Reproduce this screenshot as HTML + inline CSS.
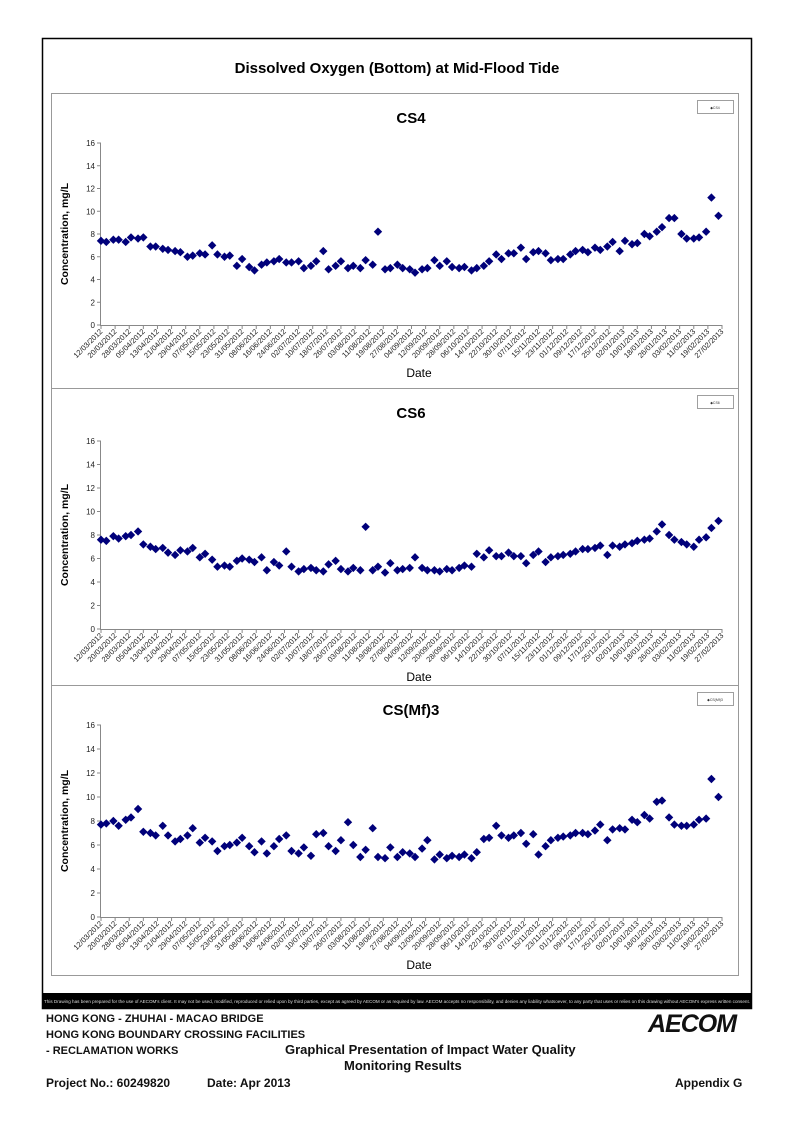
<!DOCTYPE html>
<html><head><meta charset="utf-8"><style>
body{margin:0;background:#fff;font-family:"Liberation Sans",Arial,sans-serif}
#page{position:relative;width:794px;height:1122px;overflow:hidden}
.t{position:absolute;font-weight:bold;color:#111;white-space:nowrap}
</style></head><body>
<div id="page">
<svg id="svg" width="794" height="1122" style="position:absolute;left:0;top:0">
<rect x="42.5" y="38.5" width="709" height="970" fill="none" stroke="#000" stroke-width="1.5"/>
<text x="397" y="73" text-anchor="middle" font-size="15" font-weight="bold" font-family="Liberation Sans">Dissolved Oxygen (Bottom) at Mid-Flood Tide</text>
<rect x="42" y="993" width="710" height="15" fill="#000"/>
<text x="44" y="1003" font-size="4.6" fill="#ddd" font-family="Liberation Sans" textLength="706" lengthAdjust="spacingAndGlyphs">This Drawing has been prepared for the use of AECOM's client. It may not be used, modified, reproduced or relied upon by third parties, except as agreed by AECOM or as required by law. AECOM accepts no responsibility, and denies any liability whatsoever, to any party that uses or relies on this drawing without AECOM's express written consent.</text>
</svg>
<div class="t" style="left:46px;top:1013px;font-size:11px">HONG KONG - ZHUHAI - MACAO BRIDGE</div>
<div class="t" style="left:46px;top:1029px;font-size:11px">HONG KONG BOUNDARY CROSSING FACILITIES</div>
<div class="t" style="left:46px;top:1045px;font-size:11px">- RECLAMATION WORKS</div>
<div class="t" style="left:285px;top:1042px;font-size:13px">Graphical Presentation of Impact Water Quality</div>
<div class="t" style="left:344px;top:1058px;font-size:13px">Monitoring Results</div>
<div class="t" style="left:46px;top:1076px;font-size:12px">Project No.: 60249820</div>
<div class="t" style="left:207px;top:1076px;font-size:12px">Date: Apr 2013</div>
<div class="t" style="left:675px;top:1076px;font-size:12px">Appendix G</div>
<div class="t" style="left:648px;top:1010px;font-size:25px;font-style:italic;letter-spacing:-1px">AECOM</div>
</div>
<script>
const days=[0,3,7,10,14,17,21,24,28,31,35,38,42,45,49,52,56,59,63,66,70,73,77,80,84,87,91,94,98,101,105,108,112,115,119,122,126,129,133,136,140,143,147,150,154,157,161,164,168,171,175,178,182,185,189,192,196,199,203,206,210,213,217,220,224,227,231,234,238,241,245,248,252,255,259,262,266,269,273,276,280,283,287,290,294,297,301,304,308,311,315,318,322,325,329,332,336,339,343,346,350];
const cs4=[7.4,7.3,7.5,7.5,7.3,7.7,7.6,7.7,6.9,6.9, 6.7,6.6,6.5,6.4,6.0,6.1,6.3,6.2, 7.0,6.2,6.0,6.1,5.2,5.8,5.1,4.8,5.3,5.5, 5.6,5.8,5.5,5.5,5.6,5.0,5.2,5.6, 6.5,4.9,5.2,5.6,5.0,5.2,5.0,5.7, 5.3,8.2, 4.9,5.0,5.3,5.0,4.9,4.6,4.9,5.0, 5.7,5.2,5.6,5.1,5.0,5.1,4.8,5.0, 5.2,5.6,6.2,5.8,6.3,6.3,6.8,5.8, 6.4,6.5,6.3,5.7,5.8,5.8,6.2,6.5, 6.6,6.4,6.8,6.6,6.9,7.3,6.5,7.4, 7.1,7.2,8.0,7.8,8.2,8.6,9.4,9.4, 8.0,7.6,7.6,7.7,8.2,11.2, 9.6];
const cs6=[7.6,7.5,7.9,7.7,7.9,8.0,8.3,7.2,7.0,6.8, 6.9,6.5,6.3,6.7,6.6,6.9,6.1,6.4, 5.9,5.3,5.4,5.3,5.8,6.0,5.9,5.7,6.1,5.0, 5.7,5.4,6.6,5.3,4.9,5.1,5.2,5.0, 4.9,5.5,5.8,5.1,4.9,5.2,5.0,8.7, 5.0,5.3, 4.8,5.6,5.0,5.1,5.2,6.1,5.2,5.0, 5.0,4.9,5.1,5.0,5.2,5.4,5.3,6.4, 6.1,6.7,6.2,6.2,6.5,6.2,6.2,5.6, 6.3,6.6,5.7,6.1,6.2,6.3,6.4,6.6, 6.8,6.8,6.9,7.1,6.3,7.1,7.0,7.2, 7.3,7.5,7.6,7.7,8.3,8.9,8.0,7.6, 7.4,7.2,7.0,7.6,7.8,8.6, 9.2];
const csmf3=[7.7,7.8,8.0,7.6,8.1,8.3,9.0,7.1,7.0,6.8, 7.6,6.8,6.3,6.5,6.8,7.4,6.2,6.6, 6.3,5.5,5.9,6.0,6.2,6.6,5.9,5.4,6.3,5.3, 5.9,6.5,6.8,5.5,5.3,5.8,5.1,6.9, 7.0,5.9,5.5,6.4,7.9,6.0,5.0,5.6, 7.4,5.0, 4.9,5.8,5.0,5.4,5.3,5.0,5.7,6.4, 4.8,5.2,4.9,5.1,5.0,5.2,4.9,5.4, 6.5,6.6,7.6,6.8,6.6,6.8,7.0,6.1, 6.9,5.2,5.9,6.4,6.6,6.7,6.8,7.0, 7.0,6.9,7.2,7.7,6.4,7.3,7.4,7.3, 8.1,7.9,8.5,8.2,9.6,9.7,8.3,7.7, 7.6,7.6,7.7,8.1,8.2,11.5, 10.0];
const yTicks=[0,2,4,6,8,10,12,14,16];
const xTickLabels=["12/03/2012","20/03/2012","28/03/2012","05/04/2012","13/04/2012","21/04/2012","29/04/2012","07/05/2012","15/05/2012","23/05/2012","31/05/2012","08/06/2012","16/06/2012","24/06/2012","02/07/2012","10/07/2012","18/07/2012","26/07/2012","03/08/2012","11/08/2012","19/08/2012","27/08/2012","04/09/2012","12/09/2012","20/09/2012","28/09/2012","06/10/2012","14/10/2012","22/10/2012","30/10/2012","07/11/2012","15/11/2012","23/11/2012","01/12/2012","09/12/2012","17/12/2012","25/12/2012","02/01/2013","10/01/2013","18/01/2013","26/01/2013","03/02/2013","11/02/2013","19/02/2013","27/02/2013"];
const NS="http://www.w3.org/2000/svg";
const svg=document.getElementById('svg');
function mk(tag,attrs,parent){const e=document.createElementNS(NS,tag);for(const k in attrs)e.setAttribute(k,attrs[k]);(parent||svg).appendChild(e);return e;}
const panels=[
 {name:'cs4',title:'CS4',legend:'CS4',vals:cs4,top:93,bot:388,yTop:143,yBot:325},
 {name:'cs6',title:'CS6',legend:'CS6',vals:cs6,top:388,bot:685,yTop:441,yBot:629},
 {name:'csmf3',title:'CS(Mf)3',legend:'CS(Mf)3',vals:csmf3,top:685,bot:975,yTop:725,yBot:917}
];
const X0=101,X1=722,DMAX=352;
function xs(d){return X0+(d/DMAX)*(X1-X0);}
panels.forEach(p=>{
 const g=mk('g',{});
 
 
 const fr=mk('rect',{x:51.5,y:p.top+0.5,width:687,height:p.bot-p.top,fill:'none',stroke:'#999','stroke-width':1},g);
 
 
 const ys=v=>p.yBot-(v/16)*(p.yBot-p.yTop);
 const t=mk('text',{x:411,y:p.top+30,'text-anchor':'middle','font-size':15,'font-weight':'bold','font-family':'Liberation Sans'},g);
 t.textContent=p.title;
 
 
 const lb=mk('rect',{x:697.5,y:p.top+7.5,width:36,height:13,fill:'#fff',stroke:'#777','stroke-width':0.7},g);
 
 
 const lt=mk('text',{x:715,y:p.top+16,'text-anchor':'middle','font-size':3.5,fill:'#333','font-family':'Liberation Sans'},g);
 lt.textContent='\u25C6'+p.legend;
 
 
 const ax=mk('path',{d:`M${X0-0.5},${p.yTop} V${p.yBot+0.5} H${X1}`,fill:'none',stroke:'#888','stroke-width':1},g);
 
 
 yTicks.forEach(v=>{
  mk('line',{x1:X0-4,x2:X0,y1:ys(v),y2:ys(v),stroke:'#888'},g);
  const tt=mk('text',{x:X0-6,y:ys(v)+3,'text-anchor':'end','font-size':8,fill:'#222','font-family':'Liberation Sans'},g);
  tt.textContent=v;
  
  
 });
 xTickLabels.forEach((lab,i)=>{
  const x=xs(i*8);
  mk('line',{x1:x,x2:x,y1:p.yBot,y2:p.yBot+4,stroke:'#888'},g);
  const tt=mk('text',{x:x+2,y:p.yBot+7,'text-anchor':'end','font-size':7.5,fill:'#222','font-family':'Liberation Sans',transform:`rotate(-45 ${x+2} ${p.yBot+7})`},g);
  tt.textContent=lab;
  
  
 });
 const yl=mk('text',{x:68,y:(p.yTop+p.yBot)/2,'text-anchor':'middle','font-size':10.5,'font-weight':'bold','font-family':'Liberation Sans',transform:`rotate(-90 68 ${(p.yTop+p.yBot)/2})`},g);
 yl.textContent='Concentration, mg/L';
 
 
 const xl=mk('text',{x:419,y:p.yBot+52,'text-anchor':'middle','font-size':12,'font-family':'Liberation Sans'},g);
 xl.textContent='Date';
 
 
 p.vals.forEach((v,i)=>{
  const x=xs(days[i]),y=ys(v),r=4.2;
  const m=mk('path',{d:`M${x},${y-r} L${x+r},${y} L${x},${y+r} L${x-r},${y} Z`,fill:'#00007a'},g);
  
  
 });
});
</script>
</body></html>
